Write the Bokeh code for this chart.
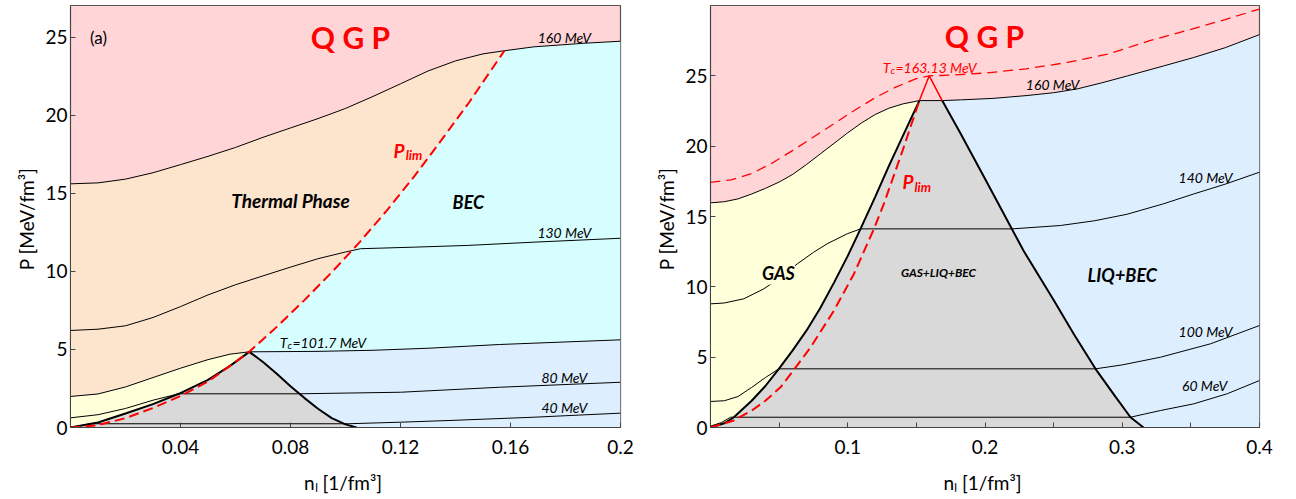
from bokeh.plotting import figure
from bokeh.layouts import row
from bokeh.models import Label, FixedTicker, Range1d
from bokeh.embed import file_html
from bokeh.resources import INLINE

FONT = "Lato"
PINK = "#FFD5D8"
PEACH = "#FDE4CC"
CYAN = "#D7FEFF"
LBLUE = "#DDEEFF"
YELLOW = "#FFFFDA"
GREY = "#D9D9D9"
RED = "#FF0000"

# ---------------- Panel (a) data ----------------
A_x_ticks = [0.04, 0.08, 0.12, 0.16, 0.2]
A_x_labels = ["0.04", "0.08", "0.12", "0.16", "0.2"]
A_y_ticks = [0, 5, 10, 15, 20, 25]

# 160 MeV isotherm: thermal branch and BEC branch
A_T160_gas_n = [0, 0.01, 0.02, 0.03, 0.04, 0.05, 0.06, 0.07, 0.08, 0.09, 0.1, 0.11, 0.12, 0.13, 0.14, 0.15, 0.1578]
A_T160_gas_P = [15.62, 15.68, 15.92, 16.33, 16.85, 17.38, 17.95, 18.6, 19.2, 19.8, 20.45, 21.22, 22.03, 22.85, 23.5, 23.95, 24.15]
A_T160_liq_n = [0.1578, 0.1685, 0.1867, 0.2]
A_T160_liq_P = [24.15, 24.4, 24.63, 24.76]
# 130 MeV isotherm
A_T130_n = [0, 0.01, 0.02, 0.03, 0.04, 0.05, 0.06, 0.07, 0.08, 0.09, 0.1, 0.1055, 0.125, 0.1443, 0.1685, 0.2]
A_T130_P = [6.22, 6.3, 6.52, 7.05, 7.75, 8.5, 9.15, 9.72, 10.28, 10.82, 11.25, 11.46, 11.56, 11.67, 11.88, 12.13]
# Tc = 101.7 MeV isotherm (gas branch and BEC branch)
A_Tc_gas_n = [0, 0.01, 0.02, 0.03, 0.04, 0.05, 0.058, 0.065]
A_Tc_gas_P = [1.99, 2.15, 2.6, 3.2, 3.8, 4.35, 4.7, 4.85]
A_Tc_liq_n = [0.065, 0.09, 0.11, 0.13, 0.156, 0.2]
A_Tc_liq_P = [4.85, 4.88, 4.95, 5.08, 5.32, 5.62]
# 80 MeV isotherm
A_T80_n = [0, 0.01, 0.02, 0.03, 0.0394, 0.083, 0.12, 0.156, 0.2]
A_T80_P = [0.62, 0.82, 1.22, 1.75, 2.16, 2.16, 2.26, 2.58, 2.9]
# 40 MeV isotherm
A_T40_n = [0, 0.004, 0.007, 0.101, 0.12, 0.138, 0.1685, 0.2]
A_T40_P = [0.03, 0.12, 0.24, 0.24, 0.34, 0.45, 0.66, 0.92]
# coexistence boundaries
A_left_n = [0, 0.01, 0.02, 0.03, 0.0394, 0.05, 0.058, 0.065]
A_left_P = [0, 0.32, 0.9, 1.5, 2.16, 3.05, 3.95, 4.85]
A_right_n = [0.065, 0.07, 0.075, 0.08, 0.085, 0.09, 0.095, 0.1, 0.104]
A_right_P = [4.85, 4.2, 3.45, 2.65, 1.9, 1.2, 0.6, 0.2, 0.0]
# P_lim
A_Plim_n = [0, 0.01, 0.02, 0.03, 0.04, 0.05, 0.058, 0.065, 0.075, 0.085, 0.095, 0.105, 0.115, 0.125, 0.135, 0.145, 0.1578]
A_Plim_P = [0, 0.15, 0.6, 1.25, 2.02, 2.95, 3.95, 4.85, 6.45, 8.15, 9.95, 11.85, 13.9, 16.1, 18.45, 20.85, 24.15]

# ---------------- Panel (b) data ----------------
B_x_ticks = [0.1, 0.2, 0.3, 0.4]
B_x_minor = [0.05, 0.15, 0.25, 0.35]
B_y_ticks = [0, 5, 10, 15, 20, 25]

B_T160_gas_n = [0, 0.01, 0.02, 0.03, 0.04, 0.05, 0.06, 0.07, 0.08, 0.09, 0.1, 0.11, 0.12, 0.13, 0.14, 0.1522]
B_T160_gas_P = [15.97, 16.05, 16.25, 16.6, 17.0, 17.45, 18.0, 18.7, 19.45, 20.2, 20.95, 21.65, 22.25, 22.7, 23.0, 23.24]
B_T160_liq_n = [0.1688, 0.1822, 0.2064, 0.2307, 0.25, 0.2672, 0.285, 0.304, 0.33, 0.352, 0.375, 0.4]
B_T160_liq_P = [23.24, 23.29, 23.4, 23.6, 23.8, 24.07, 24.5, 25.0, 25.7, 26.3, 27.0, 27.93]
B_Tc_n = [0, 0.015, 0.03, 0.045, 0.06, 0.075, 0.09, 0.105, 0.12, 0.135, 0.15, 0.1594, 0.175, 0.2, 0.23, 0.26, 0.29, 0.32, 0.35, 0.375, 0.4]
B_Tc_P = [17.43, 17.6, 18.05, 18.8, 19.7, 20.65, 21.6, 22.55, 23.45, 24.2, 24.8, 25.0, 25.05, 25.2, 25.5, 25.95, 26.55, 27.5, 28.3, 29.0, 29.75]
B_T140_n = [0, 0.01, 0.0243, 0.0389, 0.05, 0.0632, 0.075, 0.085, 0.0996, 0.1093, 0.2197, 0.255, 0.28, 0.3035, 0.33, 0.352, 0.375, 0.4]
B_T140_P = [8.79, 8.85, 9.15, 9.86, 10.6, 11.63, 12.45, 13.06, 13.77, 14.12, 14.12, 14.36, 14.7, 15.16, 15.9, 16.6, 17.3, 18.15]
B_T100_n = [0, 0.01, 0.02, 0.03, 0.04, 0.0498, 0.2805, 0.3, 0.328, 0.3643, 0.4]
B_T100_P = [1.85, 1.9, 2.2, 2.85, 3.55, 4.17, 4.17, 4.45, 5.0, 5.95, 7.25]
B_T60_n = [0, 0.008, 0.0146, 0.306, 0.316, 0.328, 0.352, 0.3765, 0.4]
B_T60_P = [0.1, 0.35, 0.73, 0.73, 0.95, 1.21, 1.68, 2.4, 3.34]
B_left_n = [0, 0.01, 0.017, 0.03, 0.04, 0.0498, 0.06, 0.07, 0.08, 0.09, 0.1, 0.1093, 0.12, 0.13, 0.14, 0.1522]
B_left_P = [0, 0.3, 0.73, 1.9, 2.95, 4.17, 5.5, 6.9, 8.5, 10.3, 12.2, 14.12, 16.4, 18.6, 20.7, 23.24]
B_right_n = [0.1688, 0.1822, 0.2, 0.228, 0.25, 0.265, 0.2805, 0.295, 0.306, 0.3155]
B_right_P = [23.24, 20.9, 17.68, 12.58, 9.06, 6.6, 4.17, 2.2, 0.73, 0]
B_Plim_n = [0, 0.017, 0.03, 0.04, 0.051, 0.06, 0.0729, 0.0899, 0.1044, 0.119, 0.1263, 0.14, 0.1522]
B_Plim_P = [0, 0.5, 1.2, 1.9, 2.86, 4.0, 5.7, 8.3, 10.9, 14.1, 15.9, 19.7, 23.24]
B_crit_n = [0.1522, 0.1594, 0.1688]
B_crit_P = [23.24, 25.0, 23.24]


def rev(a):
    return list(a)[::-1]


def make_fig(xmax, ymax, fw, left_b, right_b):
    p = figure(x_range=Range1d(0, xmax), y_range=Range1d(0, ymax),
               frame_width=fw, frame_height=422,
               min_border_left=left_b, min_border_right=right_b,
               min_border_top=5, min_border_bottom=70,
               output_backend="svg", toolbar_location=None)
    p.background_fill_color = PINK
    p.border_fill_color = "white"
    p.outline_line_color = "#555555"
    p.outline_line_width = 1.2
    p.xgrid.visible = False
    p.ygrid.visible = False
    for ax in (p.xaxis[0], p.yaxis[0]):
        ax.major_tick_in = 5
        ax.major_tick_out = 0
        ax.minor_tick_in = 3
        ax.minor_tick_out = 0
        ax.axis_line_color = "#444444"
        ax.major_tick_line_color = "#444444"
        ax.minor_tick_line_color = None
        ax.major_label_text_font = FONT
        ax.major_label_text_font_size = "19px"
        ax.major_label_text_color = "black"
        ax.axis_label_text_font = FONT
        ax.axis_label_text_font_size = "19px"
        ax.axis_label_text_font_style = "normal"
        ax.axis_label_text_color = "black"
    p.xaxis.major_label_standoff = 12
    p.yaxis.major_label_standoff = 3
    p.xaxis.axis_label_standoff = 14
    p.yaxis.axis_label_standoff = 4
    p.yaxis.axis_label = "P  [MeV/fm³]"
    p.xaxis.axis_label = "nₗ  [1/fm³]"
    return p


def lab(p, x, y, text, size, style="normal", color="black", align="center", xo=0, yo=0, bg=None):
    p.add_layout(Label(x=x, y=y, text=text, text_font=FONT, text_font_size=size,
                       text_font_style=style, text_color=color, text_align=align,
                       text_baseline="middle", x_offset=xo, y_offset=yo,
                       background_fill_color=bg))


# ---------------- Panel (a) ----------------
pa = make_fig(0.2, 27.05, 550, 70, 20)
pa.yaxis.ticker = FixedTicker(ticks=A_y_ticks)
pa.xaxis.ticker = FixedTicker(ticks=A_x_ticks)
pa.xaxis.major_label_overrides = {t: s for t, s in zip(A_x_ticks, A_x_labels)}

k = A_Plim_n.index(0.065)
# peach thermal phase
pa.patch(A_T160_gas_n + rev(A_Plim_n[k:]) + rev(A_Tc_gas_n),
         A_T160_gas_P + rev(A_Plim_P[k:]) + rev(A_Tc_gas_P), color=PEACH, line_color=None)
# cyan BEC
pa.patch(A_Tc_liq_n + rev(A_T160_liq_n) + rev(A_Plim_n[k:]),
         A_Tc_liq_P + rev(A_T160_liq_P) + rev(A_Plim_P[k:]), color=CYAN, line_color=None)
# yellow gas
pa.patch(A_Tc_gas_n + rev(A_left_n), A_Tc_gas_P + rev(A_left_P), color=YELLOW, line_color=None)
# light blue
pa.patch(rev(A_right_n) + A_Tc_liq_n + [0.2], rev(A_right_P) + A_Tc_liq_P + [0],
         color=LBLUE, line_color=None)
# grey coexistence
pa.patch(A_left_n + A_right_n[1:], A_left_P + A_right_P[1:], color=GREY, line_color=None)

for xs, ys in [(A_T160_gas_n + A_T160_liq_n[1:], A_T160_gas_P + A_T160_liq_P[1:]),
               (A_T130_n, A_T130_P),
               (A_Tc_gas_n + A_Tc_liq_n[1:], A_Tc_gas_P + A_Tc_liq_P[1:]),
               (A_T80_n, A_T80_P), (A_T40_n, A_T40_P)]:
    pa.line(xs, ys, line_color="black", line_width=1)
pa.line(A_left_n, A_left_P, line_color="black", line_width=2)
pa.line(A_right_n, A_right_P, line_color="black", line_width=2)
pa.line(A_Plim_n, A_Plim_P, line_color=RED, line_width=2, line_dash="10 5")

lab(pa, 0.0102, 25.0, "(a)", "17px")
lab(pa, 0.1018, 25.0, "Q G P", "30px", "bold", RED)
lab(pa, 0.08, 14.55, "Thermal Phase", "19px", "bold italic")
lab(pa, 0.1447, 14.44, "BEC", "18px", "bold italic")
lab(pa, 0.1215, 17.76, "P", "19px", "bold italic", RED, "right")
lab(pa, 0.1215, 17.76, "lim", "13px", "bold italic", RED, "left", 1, -5)
lab(pa, 0.1796, 25.0, "160 MeV", "14px", "italic")
lab(pa, 0.1796, 12.5, "130 MeV", "14px", "italic")
lab(pa, 0.1796, 3.2, "80 MeV", "14px", "italic")
lab(pa, 0.1796, 1.28, "40 MeV", "14px", "italic")
lab(pa, 0.0789, 5.45, "T", "14px", "italic", "black", "right")
lab(pa, 0.0789, 5.45, "c", "10px", "italic", "black", "left", 0, -3)
lab(pa, 0.0789, 5.45, "=101.7 MeV", "14px", "italic", "black", "left", 5)

# ---------------- Panel (b) ----------------
pb = make_fig(0.4, 30.0, 549, 70, 20)
pb.yaxis.ticker = FixedTicker(ticks=B_y_ticks)
pb.xaxis.ticker = FixedTicker(ticks=B_x_ticks, minor_ticks=B_x_minor)
pb.xaxis.minor_tick_line_color = "#444444"
pb.xaxis.minor_tick_in = 5

pb.patch(B_T160_gas_n + rev(B_left_n), B_T160_gas_P + rev(B_left_P), color=YELLOW, line_color=None)
pb.patch(B_left_n + B_right_n, B_left_P + B_right_P, color=GREY, line_color=None)
pb.patch(B_right_n + [0.4] + rev(B_T160_liq_n), B_right_P + [0] + rev(B_T160_liq_P),
         color=LBLUE, line_color=None)

pb.line(B_T160_gas_n + B_T160_liq_n, B_T160_gas_P + B_T160_liq_P, line_color="black", line_width=1)
for xs, ys in [(B_T140_n, B_T140_P), (B_T100_n, B_T100_P), (B_T60_n, B_T60_P)]:
    pb.line(xs, ys, line_color="black", line_width=1)
pb.line(B_Tc_n, B_Tc_P, line_color=RED, line_width=1.3, line_dash="10 6")
pb.line(B_left_n, B_left_P, line_color="black", line_width=2)
pb.line(B_right_n, B_right_P, line_color="black", line_width=2)
pb.line(B_Plim_n, B_Plim_P, line_color=RED, line_width=2, line_dash="10 5")
pb.line(B_crit_n, B_crit_P, line_color=RED, line_width=1.5)

lab(pb, 0.1996, 27.86, "Q G P", "30px", "bold", RED)
lab(pb, 0.1311, 25.62, "T", "14px", "italic", RED, "right")
lab(pb, 0.1311, 25.62, "c", "10px", "italic", RED, "left", 0, -3)
lab(pb, 0.1311, 25.62, "=163.13 MeV", "14px", "italic", RED, "left", 5)
lab(pb, 0.2492, 24.38, "160 MeV", "14px", "italic")
lab(pb, 0.3607, 17.77, "140 MeV", "14px", "italic")
lab(pb, 0.3607, 6.82, "100 MeV", "14px", "italic")
lab(pb, 0.3600, 2.99, "60 MeV", "14px", "italic")
lab(pb, 0.1479, 17.48, "P", "19px", "bold italic", RED, "right")
lab(pb, 0.1479, 17.48, "lim", "13px", "bold italic", RED, "left", 1, -5)
lab(pb, 0.0495, 10.95, "GAS", "18px", "bold italic", bg=YELLOW)
lab(pb, 0.1661, 11.0, "GAS+LIQ+BEC", "12px", "bold italic")
lab(pb, 0.3, 10.87, "LIQ+BEC", "18px", "bold italic")

layout = row(pa, pb)
open("out.html", "w").write(file_html(layout, INLINE))
